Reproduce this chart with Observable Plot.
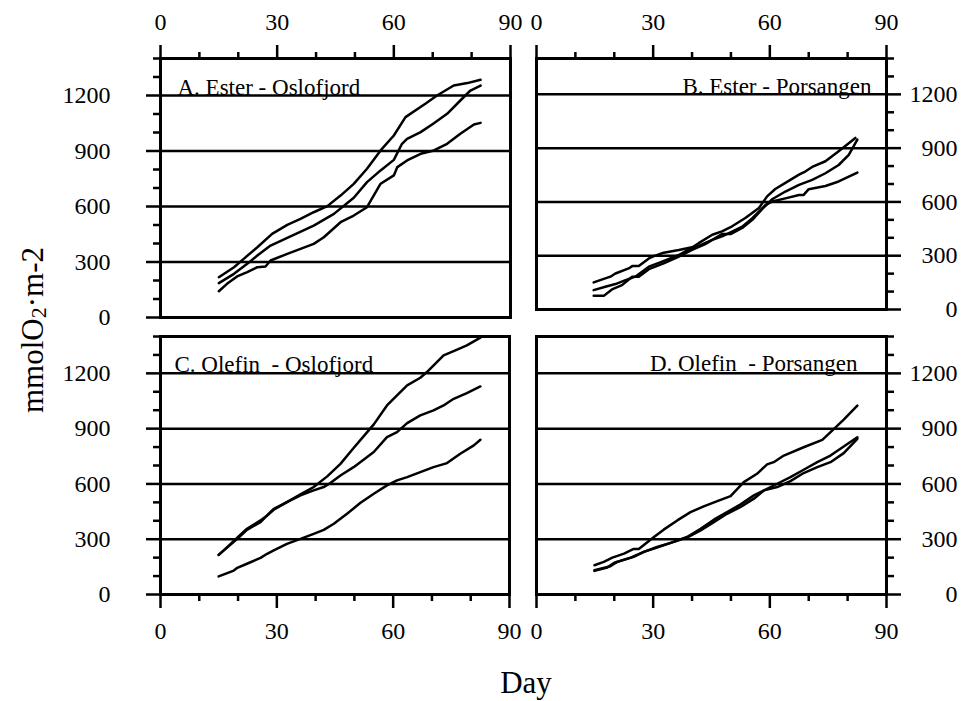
<!DOCTYPE html>
<html>
<head>
<meta charset="utf-8">
<script src="https://cdn.jsdelivr.net/npm/d3@7"></script>
<script src="https://cdn.jsdelivr.net/npm/@observablehq/plot@0.6"></script>
<style>
html, body { margin: 0; padding: 0; background: #fff; }
#root { position: relative; width: 963px; height: 701px; overflow: hidden; font-family: "Liberation Serif", "Times New Roman", serif; color: #000; }
.panel { position: absolute; }
.panel svg { overflow: visible; }
.panel svg text { white-space: pre; }
#ylab { position: absolute; left: 32px; top: 330px; transform: translate(-50%, -50%) rotate(-90deg); font-size: 31px; line-height: 31px; white-space: nowrap; }
#ylab sub { font-size: 22px; vertical-align: -3px; line-height: 0; }
#xlab { position: absolute; left: 526px; top: 667px; transform: translateX(-50%); font-size: 31px; line-height: 31px; white-space: nowrap; }
</style>
</head>
<body>
<div id="root">
  <div id="ylab">mmolO<sub>2</sub>·m-2</div>
  <div id="xlab">Day</div>
</div>
<script>
// ---- tick values ----
const xMajor = [0, 30, 60, 90];
const xMinor = [10, 20, 40, 50, 70, 80];
const yMajor = [0, 300, 600, 900, 1200];
const yMinor = [100, 200, 400, 500, 700, 800, 1000, 1100, 1300, 1400];
const gridVals = [300, 600, 900, 1200];
const xDomain = [0, 90];
const yDomain = [0, 1400];

// ---- panel titles ----
const titles = ["A. Ester - Oslofjord", "B. Ester - Porsangen", "C. Olefin  - Oslofjord", "D. Olefin  - Porsangen"];

// ---- data: [day, mmol O2 m-2] ----
// A. Ester - Oslofjord
const A1 = [[15,218],[18.9,272],[21.4,317],[24.9,380],[28.7,452],[32.6,501],[36,533],[39.4,569],[42.9,602],[46.3,659],[49.7,722],[53.1,804],[56.6,903],[60,984],[63,1083],[68.1,1155],[71.1,1200],[75.4,1254],[78.9,1267],[82.3,1285]];
const A2 = [[15,186],[18.9,236],[22.3,290],[24.9,335],[28.3,389],[32.6,431],[39.4,497],[44.6,560],[49.7,647],[53.1,732],[56.6,795],[60,852],[62.1,939],[63.4,966],[66.9,1002],[70.3,1050],[73.7,1101],[77.1,1173],[79.7,1227],[82.3,1254]];
const A3 = [[15,142],[17.1,182],[19.7,222],[22.3,245],[24.9,272],[27,276],[28.3,308],[32.6,344],[36,371],[39.4,398],[42,434],[46.3,515],[49.7,551],[53.1,596],[56.6,723],[60,768],[60.9,813],[63.4,849],[66.9,885],[70.3,903],[73.7,939],[77.1,993],[80.6,1043],[82.3,1052]];
// B. Ester - Porsangen
const B1 = [[14.7,151],[19,183],[20.3,201],[23.7,229],[24.6,242],[26.3,242],[28.9,285],[30.2,298],[32.7,317],[36.6,332],[40,347],[41.7,355],[45.2,388],[47.7,408],[50.3,435],[52.9,462],[55.5,509],[57.2,546],[58.9,583],[60.6,602],[64,620],[67.5,639],[68.7,639],[70,671],[74.3,689],[77.7,714],[82.5,764]];
const B2 = [[14.7,108],[17.7,127],[20.3,142],[22.9,164],[25.4,183],[28.9,239],[32.3,267],[36.6,304],[40,345],[41.7,370],[45.2,417],[47.7,436],[50.3,464],[53.7,510],[57.2,566],[59.3,631],[61.4,672],[64,706],[67.5,752],[69.2,771],[70.9,795],[74.3,827],[77.7,883],[82,957]];
const B3 = [[14.7,76],[17.3,76],[19.4,112],[22,136],[24.6,183],[26.3,183],[28.9,225],[32.7,257],[36.6,295],[40,332],[43.4,365],[47.7,421],[49.9,421],[52.9,455],[55.5,500],[58,560],[60.6,615],[64,658],[67.5,695],[70.9,723],[74.3,760],[77.7,806],[80.3,862],[82.5,948]];
// C. Olefin - Oslofjord
const C1 = [[15,215],[17.2,257],[19.8,308],[22.3,357],[25.8,402],[27.5,429],[29.2,465],[32.6,501],[36.1,543],[39.5,583],[43,641],[46.4,709],[49.8,795],[53.3,881],[55,923],[58.4,1026],[61,1081],[63.6,1135],[67,1176],[68.7,1207],[73,1298],[75.6,1321],[79,1352],[82.5,1394]];
const C2 = [[15,215],[19.8,302],[22.3,351],[25.8,393],[27.5,429],[29.2,460],[32.6,501],[36.1,538],[39.5,565],[42.1,583],[43.8,605],[46.4,646],[49.8,691],[53.3,746],[55,773],[58.4,854],[61,881],[63.6,930],[67,972],[70.4,999],[73,1026],[75.6,1062],[79,1093],[82.5,1129]];
const C3 = [[15,98],[18.9,130],[19.8,145],[22.3,167],[25.8,199],[27.5,221],[29.2,239],[32.6,275],[36.1,302],[39.5,329],[42.1,351],[44.7,384],[48.1,438],[51.5,496],[55,547],[58.4,592],[61,619],[63.6,637],[67,664],[70.4,691],[73.9,713],[77.3,764],[80.8,809],[82.5,840]];
// D. Olefin - Porsangen
const D1 = [[14.9,159],[17.3,177],[19.5,200],[22.5,222],[25,247],[26.3,247],[30.2,312],[32.7,352],[36.2,402],[39.6,447],[43,478],[46.5,507],[49.9,534],[53.3,610],[56.7,655],[59.3,706],[61,718],[63.6,754],[68.7,799],[73.5,839],[76.5,899],[79,949],[82.5,1025]];
const D2 = [[14.9,132],[19,153],[20.7,177],[25,204],[27.6,231],[30.2,249],[34.5,280],[38.7,309],[42.2,348],[45.6,393],[49,438],[52.5,475],[55.9,520],[58.5,565],[61.9,583],[65.3,615],[68.7,659],[72.2,691],[75.6,718],[79,767],[82.5,845]];
const D3 = [[14.9,128],[18.2,146],[19.9,171],[24.2,200],[27.6,231],[31,258],[34.5,280],[38.7,312],[42.2,357],[45.6,406],[49,447],[52.5,489],[55.9,538],[58.5,565],[61.9,601],[65.3,637],[68.7,677],[72.2,718],[75.6,754],[79,803],[82.5,853]];

function toRows(seriesList) {
  return seriesList.flatMap((s, i) => s.map(([day, v]) => ({day, v, s: i})));
}

function makePanel(cfg) {
  const {series, title, xAnchor, yAnchor, left, top, width, height, mL, mR, mT, mB, tAnchor, tDx, tDy} = cfg;
  const right = yAnchor === "right";
  const plot = Plot.plot({
    width, height,
    marginLeft: mL, marginRight: mR, marginTop: mT, marginBottom: mB,
    x: {domain: xDomain, axis: null},
    y: {domain: yDomain, axis: null},
    style: {fontFamily: "Liberation Serif, Times New Roman, serif", background: "transparent", overflow: "visible", color: "black"},
    marks: [
      Plot.ruleY(gridVals, {stroke: "black", strokeWidth: 2.5}),
      Plot.axisY({anchor: yAnchor, ticks: yMajor, tickSize: 14, tickPadding: right ? 57 : 36, strokeWidth: 2.5, fontSize: 24, textAnchor: "end", label: null, tickFormat: d => String(d)}),
      Plot.axisY({anchor: yAnchor, ticks: yMinor, tickSize: 7, strokeWidth: 2.5, label: null, tickFormat: () => ""}),
      Plot.axisX({anchor: xAnchor, ticks: xMajor, tickSize: 14, tickPadding: xAnchor === "top" ? 15 : 13, strokeWidth: 2.5, fontSize: 24, label: null, tickFormat: d => String(d)}),
      Plot.axisX({anchor: xAnchor, ticks: xMinor, tickSize: 7, strokeWidth: 2.5, label: null, tickFormat: () => ""}),
      Plot.line(toRows(series), {x: "day", y: "v", z: "s", stroke: "black", strokeWidth: 2.5, curve: "linear"}),
      Plot.frame({stroke: "black", strokeWidth: 3}),
      Plot.text([title], {frameAnchor: tAnchor, textAnchor: tAnchor.endsWith("left") ? "start" : "end", dx: tDx, dy: tDy, fontSize: 23, fill: "black"})
    ]
  });
  const div = document.createElement("div");
  div.className = "panel";
  div.style.left = left + "px";
  div.style.top = top + "px";
  div.style.width = width + "px";
  div.style.height = height + "px";
  div.appendChild(plot);
  document.getElementById("root").appendChild(div);
}

makePanel({series: [A1, A2, A3], title: titles[0], xAnchor: "top", yAnchor: "left",
  left: 0, top: 0, width: 520, height: 325, mL: 160, mR: 10, mT: 58, mB: 8,
  tAnchor: "top-left", tDx: 17, tDy: 20});
makePanel({series: [B1, B2, B3], title: titles[1], xAnchor: "top", yAnchor: "right",
  left: 520, top: 0, width: 443, height: 320, mL: 16, mR: 77, mT: 58, mB: 11,
  tAnchor: "top-right", tDx: -15, tDy: 19});
makePanel({series: [C1, C2, C3], title: titles[2], xAnchor: "bottom", yAnchor: "left",
  left: 0, top: 325, width: 520, height: 376, mL: 160, mR: 11, mT: 11, mB: 107,
  tAnchor: "top-left", tDx: 14, tDy: 19});
makePanel({series: [D1, D2, D3], title: titles[3], xAnchor: "bottom", yAnchor: "right",
  left: 520, top: 325, width: 443, height: 376, mL: 16, mR: 77, mT: 11, mB: 107,
  tAnchor: "top-right", tDx: -29, tDy: 18});
</script>
</body>
</html>
